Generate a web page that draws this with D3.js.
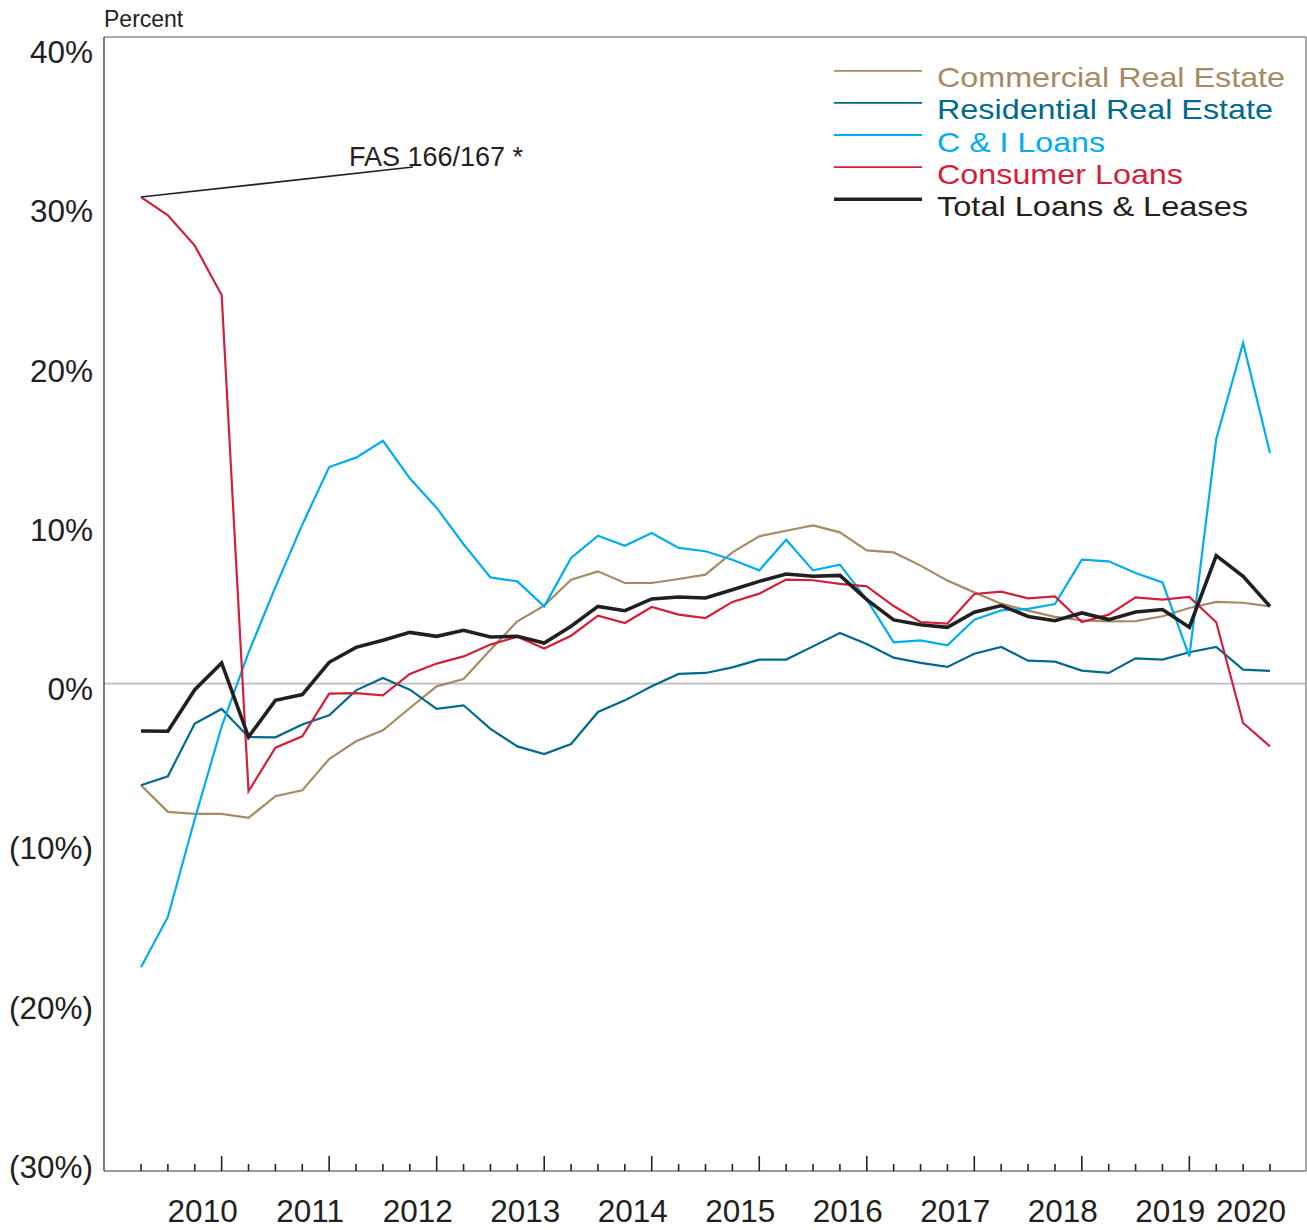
<!DOCTYPE html>
<html><head><meta charset="utf-8">
<script src="https://cdn.jsdelivr.net/npm/d3@7/dist/d3.min.js"></script>
<style>
html,body{margin:0;padding:0;background:#fff;}
svg{display:block;font-family:"Liberation Sans",Arial,Helvetica,sans-serif;}
</style></head>
<body>
<svg id="chart" width="1307" height="1230"></svg>
<script>
// Quarters 2010Q1 .. 2020Q3
const quarters = [];
for (let y = 2010; y <= 2020; y++) for (let q = 1; q <= 4; q++) { if (y === 2020 && q > 3) break; quarters.push(y + "Q" + q); }

const yearLabels = ["2010","2011","2012","2013","2014","2015","2016","2017","2018","2019","2020"];
const yTicks = [-30, -20, -10, 0, 10, 20, 30, 40];

const commercialRE = [-6.38,-8.05,-8.18,-8.18,-8.43,-7.07,-6.7,-4.73,-3.62,-2.93,-1.53,-0.17,0.29,2.13,3.91,4.9,6.53,7.05,6.32,6.32,6.57,6.84,8.24,9.25,9.6,9.94,9.5,8.37,8.24,7.41,6.47,5.73,5.02,4.58,4.19,3.97,3.91,3.93,4.23,4.75,5.13,5.08,4.85];
const residentialRE = [-6.38,-5.82,-2.51,-1.59,-3.35,-3.37,-2.57,-1.99,-0.42,0.36,-0.38,-1.59,-1.36,-2.84,-3.94,-4.42,-3.79,-1.78,-1.05,-0.17,0.61,0.67,1.02,1.51,1.51,2.34,3.18,2.49,1.63,1.3,1.05,1.88,2.3,1.44,1.38,0.82,0.67,1.59,1.51,1.97,2.3,0.88,0.8];
const ciLoans = [-17.81,-14.65,-8.5,-2.7,1.95,6.06,9.98,13.6,14.19,15.25,12.89,11.03,8.75,6.67,6.42,4.85,7.89,9.29,8.66,9.46,8.52,8.31,7.78,7.11,9.04,7.11,7.47,5.27,2.59,2.72,2.4,4.02,4.6,4.69,5.0,7.78,7.68,6.95,6.36,1.71,15.36,21.39,14.48];
const consumerLoans = [30.55,29.4,27.5,24.4,-6.76,-4.02,-3.31,-0.63,-0.59,-0.73,0.61,1.26,1.71,2.45,2.95,2.2,3.01,4.27,3.81,4.81,4.33,4.12,5.13,5.65,6.53,6.49,6.26,6.11,4.87,3.87,3.77,5.63,5.78,5.36,5.48,3.87,4.33,5.42,5.27,5.44,3.85,-2.47,-3.94];
const totalLoans = [-2.97,-2.99,-0.38,1.3,-3.35,-1.05,-0.69,1.34,2.28,2.72,3.22,2.97,3.35,2.93,2.97,2.55,3.6,4.85,4.58,5.32,5.44,5.38,5.9,6.42,6.88,6.74,6.8,5.27,4.0,3.7,3.53,4.48,4.9,4.22,3.95,4.44,4.02,4.5,4.65,3.54,8.04,6.74,4.85];

const seriesNames = ["Commercial Real Estate","Residential Real Estate","C & I Loans","Consumer Loans","Total Loans & Leases"];
const seriesData = [commercialRE, residentialRE, ciLoans, consumerLoans, totalLoans];
const seriesColors = ["#A58B63","#006A8C","#00AEEF","#D21F3C","#231F20"];
const seriesWidths = [2.2, 2.2, 2.2, 2.2, 3.6];

const annotationText = "FAS 166/167 *";

const svg = d3.select("#chart");
const plot = {left:104, right:1306, top:37, bottom:1171};

const x = d3.scalePoint().domain(quarters).range([141, 1270]);
const y = d3.scaleLinear().domain([-30.6, 40.6]).range([plot.bottom, plot.top]);

// zero line
svg.append("line").attr("x1", plot.left).attr("x2", plot.right)
  .attr("y1", y(0)).attr("y2", y(0)).attr("stroke", "#bdbdbd").attr("stroke-width", 1.6);

// frame
svg.append("line").attr("x1", plot.left).attr("x2", plot.right).attr("y1", plot.top).attr("y2", plot.top).attr("stroke", "#555").attr("stroke-width", 1.2);
svg.append("line").attr("x1", plot.right).attr("x2", plot.right).attr("y1", plot.top).attr("y2", plot.bottom).attr("stroke", "#888").attr("stroke-width", 1.4);
svg.append("line").attr("x1", plot.left).attr("x2", plot.right).attr("y1", plot.bottom).attr("y2", plot.bottom).attr("stroke", "#777").attr("stroke-width", 1.6);
svg.append("line").attr("x1", plot.left).attr("x2", plot.left).attr("y1", plot.top).attr("y2", plot.bottom).attr("stroke", "#333").attr("stroke-width", 1.3);

// quarter ticks
svg.append("g").selectAll("line").data(quarters).join("line")
  .attr("x1", d => x(d)).attr("x2", d => x(d))
  .attr("y1", plot.bottom)
  .attr("y2", d => d.endsWith("Q4") ? plot.bottom - 15 : plot.bottom - 7)
  .attr("stroke", "#222").attr("stroke-width", 1.6);

// year labels
svg.append("g").selectAll("text").data(yearLabels).join("text")
  .attr("x", yr => {
    const qs = quarters.filter(q => q.startsWith(yr));
    return x(qs[qs.length - 1]) - 19;
  })
  .attr("y", 1222)
  .attr("text-anchor", "middle")
  .attr("font-size", 31.5)
  .attr("fill", "#231F20")
  .text(d => d);

// y labels
const fmt = v => v < 0 ? "(" + Math.abs(v) + "%)" : v + "%";
svg.append("g").selectAll("text").data(yTicks).join("text")
  .attr("x", 93).attr("y", d => y(d) + 16.5)
  .attr("text-anchor", "end").attr("font-size", 31.5).attr("fill", "#231F20")
  .text(fmt);

svg.append("text").attr("x", 104).attr("y", 26.5).attr("font-size", 23).attr("fill", "#231F20").text("Percent");

// lines
const line = d3.line().x((d, i) => x(quarters[i])).y(d => y(d));
seriesData.forEach((s, k) => {
  svg.append("path").datum(s).attr("d", line)
    .attr("fill", "none").attr("stroke", seriesColors[k])
    .attr("stroke-width", seriesWidths[k]).attr("stroke-linejoin", "miter");
});

// annotation
svg.append("line").attr("x1", x(quarters[0])).attr("y1", y(consumerLoans[0]))
  .attr("x2", 413).attr("y2", 167).attr("stroke", "#231F20").attr("stroke-width", 1.6);
svg.append("text").attr("x", 349).attr("y", 165.5).attr("font-size", 27).attr("fill", "#231F20").text(annotationText);

// legend
const legendWidths = [348, 336, 168, 246, 311];
const lg = svg.append("g");
seriesNames.forEach((n, k) => {
  const yy = 87.3 + k * 32.1;
  lg.append("line").attr("x1", 834).attr("x2", 922).attr("y1", yy - 16.5).attr("y2", yy - 16.5)
    .attr("stroke", seriesColors[k]).attr("stroke-width", k === 4 ? 3.6 : 1.8);
  lg.append("text").attr("x", 937).attr("y", yy).attr("font-size", 28.5)
    .attr("textLength", legendWidths[k]).attr("lengthAdjust", "spacingAndGlyphs")
    .attr("fill", seriesColors[k]).text(n);
});
</script>
</body></html>
